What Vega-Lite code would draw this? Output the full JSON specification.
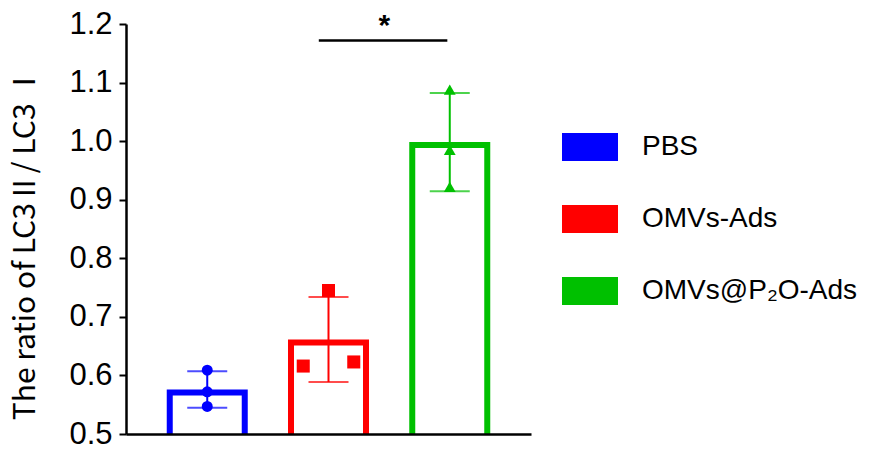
{
  "$schema": "https://vega.github.io/schema/vega-lite/v6.json",
  "autosize": "none",
  "width": 405,
  "height": 410,
  "padding": {"left": 126, "top": 24, "right": 354, "bottom": 16},
  "background": "white",
  "config": {
    "view": {"stroke": null},
    "font": "Liberation Sans",
    "axisY": {
      "titleFont": "Noto Sans CJK SC",
      "titleFontSize": 30,
      "titleFontWeight": "normal",
      "titleColor": "black",
      "titlePadding": 28,
      "titleY": 219,
      "labelFont": "Liberation Sans",
      "labelFontSize": 31,
      "labelColor": "black",
      "labelPadding": 7,
      "grid": false,
      "domainColor": "black",
      "domainWidth": 2.5,
      "tickColor": "black",
      "tickWidth": 2,
      "zindex": 2
    }
  },
  "data": {
    "values": [
      {"group": "PBS", "slot": "C", "value": 0.609},
      {"group": "PBS", "slot": "C", "value": 0.572},
      {"group": "PBS", "slot": "C", "value": 0.547},
      {"group": "OMVs-Ads", "slot": "C", "value": 0.745},
      {"group": "OMVs-Ads", "slot": "L", "value": 0.616},
      {"group": "OMVs-Ads", "slot": "R", "value": 0.623},
      {"group": "OMVs@P₂O-Ads", "slot": "C", "value": 1.088},
      {"group": "OMVs@P₂O-Ads", "slot": "C", "value": 0.985},
      {"group": "OMVs@P₂O-Ads", "slot": "C", "value": 0.922}
    ]
  },
  "encoding": {
    "x": {
      "field": "group",
      "type": "nominal",
      "sort": ["PBS", "OMVs-Ads", "OMVs@P₂O-Ads"],
      "scale": {"paddingInner": 0, "paddingOuter": 0.17},
      "axis": {
        "title": null,
        "labels": false,
        "ticks": false,
        "domainColor": "black",
        "domainWidth": 2.5,
        "zindex": 2
      }
    },
    "color": {
      "field": "group",
      "type": "nominal",
      "sort": ["PBS", "OMVs-Ads", "OMVs@P₂O-Ads"],
      "scale": {
        "domain": ["PBS", "OMVs-Ads", "OMVs@P₂O-Ads"],
        "range": ["#0000ff", "#ff0000", "#00c000"]
      },
      "legend": {
        "title": null,
        "orient": "none",
        "legendX": 436,
        "legendY": 95,
        "padding": 0,
        "symbolType": "M-1,-0.5H1V0.5H-1Z",
        "symbolSize": 3136,
        "symbolStrokeWidth": 0,
        "symbolOpacity": 1,
        "labelFont": "Liberation Sans",
        "labelFontSize": 28,
        "labelColor": "black",
        "labelOffset": 24,
        "rowPadding": 30,
        "labelLimit": 400,
        "encode": {
          "symbols": {
            "update": {
              "fill": {"scale": "color", "field": "value"},
              "fillOpacity": {"value": 1},
              "strokeWidth": {"value": 0}
            }
          }
        }
      }
    }
  },
  "layer": [
    {
      "mark": {"type": "bar", "filled": false, "strokeWidth": 6, "width": 75, "clip": true, "yOffset": 3},
      "encoding": {
        "y": {
          "aggregate": "mean",
          "field": "value",
          "type": "quantitative",
          "title": "The ratio of LC3Ⅱ/ LC3 Ⅰ",
          "scale": {"domain": [0.5, 1.2], "nice": false, "zero": false},
          "axis": {
            "values": [0.5, 0.55, 0.6, 0.65, 0.7, 0.75, 0.8, 0.85, 0.9, 0.95, 1.0, 1.05, 1.1, 1.15, 1.2],
            "labelExpr": "round(datum.value * 100) % 10 == 0 ? format(datum.value, '.1f') : ''",
            "tickSize": {"condition": {"test": "round(datum.value * 100) % 10 == 0", "value": 7}, "value": 4}
          }
        },
        "y2": {"datum": 0.45}
      }
    },
    {
      "mark": {"type": "errorbar", "extent": "stdev", "thickness": 2, "ticks": {"size": 40, "thickness": 2}},
      "encoding": {
        "y": {"field": "value", "type": "quantitative", "title": "The ratio of LC3Ⅱ/ LC3 Ⅰ"}
      }
    },
    {
      "transform": [{"filter": "datum.group == 'PBS'"}],
      "mark": {"type": "point", "filled": true, "opacity": 1, "shape": "circle", "size": 120},
      "encoding": {
        "y": {"field": "value", "type": "quantitative", "title": "The ratio of LC3Ⅱ/ LC3 Ⅰ"},
        "xOffset": {
          "field": "slot",
          "type": "nominal",
          "scale": {"domain": ["LL", "L", "C", "R", "RR"], "paddingInner": 0, "paddingOuter": 0.4}
        }
      }
    },
    {
      "transform": [{"filter": "datum.group == 'OMVs-Ads'"}],
      "mark": {"type": "point", "filled": true, "opacity": 1, "shape": "square", "size": 170},
      "encoding": {
        "y": {"field": "value", "type": "quantitative", "title": "The ratio of LC3Ⅱ/ LC3 Ⅰ"},
        "xOffset": {
          "field": "slot",
          "type": "nominal",
          "scale": {"domain": ["LL", "L", "C", "R", "RR"], "paddingInner": 0, "paddingOuter": 0.4}
        }
      }
    },
    {
      "transform": [{"filter": "datum.group == 'OMVs@P₂O-Ads'"}],
      "mark": {"type": "point", "filled": true, "opacity": 1, "shape": "triangle-up", "size": 140},
      "encoding": {
        "y": {"field": "value", "type": "quantitative", "title": "The ratio of LC3Ⅱ/ LC3 Ⅰ"},
        "xOffset": {
          "field": "slot",
          "type": "nominal",
          "scale": {"domain": ["LL", "L", "C", "R", "RR"], "paddingInner": 0, "paddingOuter": 0.4}
        }
      }
    },
    {
      "data": {"values": [{"label": "*"}]},
      "mark": {"type": "rule", "strokeWidth": 2.5, "color": "black"},
      "encoding": {
        "x": {"datum": "OMVs-Ads", "bandPosition": 0.42},
        "x2": {"datum": "OMVs@P₂O-Ads", "bandPosition": 0.48},
        "y": {"datum": 1.172},
        "color": null
      }
    },
    {
      "data": {"values": [{"label": "*"}]},
      "mark": {"type": "text", "fontSize": 30, "fontWeight": "bold", "baseline": "middle", "align": "center", "color": "black", "dy": -14},
      "encoding": {
        "x": {"datum": "OMVs-Ads", "bandPosition": 0.96},
        "y": {"datum": 1.172},
        "text": {"field": "label"},
        "color": null
      }
    }
  ]
}
